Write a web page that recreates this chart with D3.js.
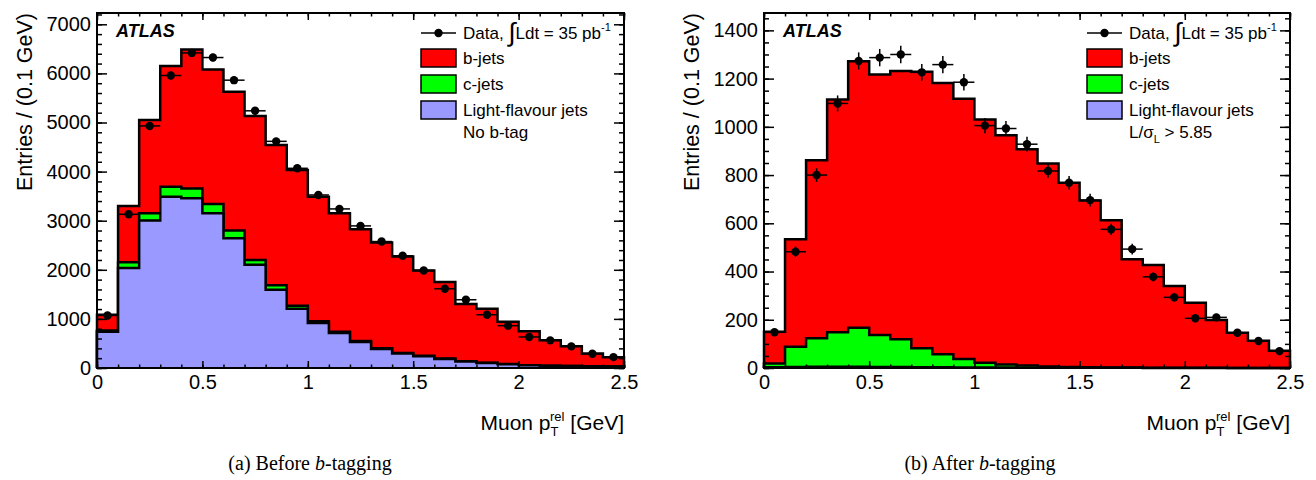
<!DOCTYPE html>
<html>
<head>
<meta charset="utf-8">
<script src="https://cdn.jsdelivr.net/npm/d3@7"></script>
<style>
  body { margin: 0; background: #fff; }
  svg { font-family: "Liberation Sans", Arial, Helvetica, sans-serif; }
</style>
</head>
<body>
<div id="chart"></div>
<script>
// Bins of muon pT^rel (GeV), lower edges, width 0.1
const binLow = [0.0, 0.1, 0.2, 0.3, 0.4, 0.5, 0.6, 0.7, 0.8, 0.9,
                1.0, 1.1, 1.2, 1.3, 1.4, 1.5, 1.6, 1.7, 1.8, 1.9,
                2.0, 2.1, 2.2, 2.3, 2.4];
const binWidth = 0.1;

// (a) before b-tagging
const beforeLight = [740, 2035, 3003, 3490, 3457, 3152, 2644, 2102, 1593, 1207,
                     916, 713, 530, 388, 293, 238, 185, 130, 104, 75,
                     55, 45, 40, 35, 30];
const beforeCharm = [25, 120, 150, 200, 200, 190, 155, 100, 90, 60,
                     35, 25, 20, 15, 12, 10, 8, 6, 5, 4,
                     3, 2, 2, 2, 2];
const beforeBottom = [320, 1145, 1896, 2463, 2829, 2737, 2825, 2928, 2858, 2766,
                      2539, 2414, 2277, 2152, 1965, 1738, 1557, 1167, 1098, 864,
                      688, 516, 399, 256, 186];
const beforeData = [1070, 3130, 4930, 5957, 6417, 6323, 5862, 5238, 4616, 4067,
                    3524, 3240, 2894, 2575, 2285, 1986, 1614, 1390, 1085, 862,
                    632, 563, 441, 290, 221];

// (b) after b-tagging
const afterLight = [3, 4, 5, 5, 5, 4, 4, 3, 3, 2,
                    2, 2, 1, 1, 1, 1, 1, 1, 0, 0,
                    0, 0, 0, 0, 0];
const afterCharm = [16, 84, 118, 143, 162, 133, 115, 79, 54, 35,
                    20, 13, 9, 5, 3, 2, 1, 1, 1, 1,
                    1, 1, 0, 0, 0];
const afterBottom = [131, 446, 738, 965, 1105, 1080, 1113, 1146, 1125, 1079,
                     1008, 950, 897, 842, 764, 692, 611, 449, 426, 339,
                     270, 198, 146, 113, 72];
const afterData = [148, 482, 800, 1097, 1273, 1287, 1300, 1226, 1258, 1185,
                   1005, 993, 928, 817, 768, 696, 575, 493, 378, 293,
                   206, 210, 146, 112, 70];

// Tick values / labels
const xMajor = [0, 0.5, 1, 1.5, 2, 2.5];
const xLabels = ["0", "0.5", "1", "1.5", "2", "2.5"];
const beforeYMajor = [0, 1000, 2000, 3000, 4000, 5000, 6000, 7000];
const beforeYLabels = ["0", "1000", "2000", "3000", "4000", "5000", "6000", "7000"];
const afterYMajor = [0, 200, 400, 600, 800, 1000, 1200, 1400];
const afterYLabels = ["0", "200", "400", "600", "800", "1000", "1200", "1400"];

const legendNames = ["b-jets", "c-jets", "Light-flavour jets"];
const colors = {b: "#ff0000", c: "#00ff00", light: "#9999ff"};

const svg = d3.select("#chart")
  .append("svg")
  .attr("width", 1316)
  .attr("height", 480);

function drawPanel(cfg) {
  const g = svg.append("g");

  const x = d3.scaleLinear().domain([0, 2.5]).range([cfg.left, cfg.right]);
  const y = d3.scaleLinear().domain([0, cfg.yMax]).range([cfg.bottom, cfg.top]);

  // stacked totals: light, light+c, light+c+b
  const lightTop = cfg.light;
  const charmTop = cfg.light.map((v, i) => v + cfg.charm[i]);
  const bTop = charmTop.map((v, i) => v + cfg.bjets[i]);

  const line = d3.line().x(d => x(d[0])).y(d => y(d[1]));
  function steps(vals) {
    const pts = [[0, 0]];
    vals.forEach((v, i) => {
      pts.push([binLow[i], v]);
      pts.push([binLow[i] + binWidth, v]);
    });
    pts.push([2.5, 0]);
    return pts;
  }

  [[bTop, colors.b], [charmTop, colors.c], [lightTop, colors.light]].forEach(([vals, col]) => {
    g.append("path")
      .attr("d", line(steps(vals)))
      .attr("fill", col)
      .attr("stroke", "#000")
      .attr("stroke-width", 2.5)
      .attr("stroke-linejoin", "miter");
  });

  // data points with error bars
  const pts = g.append("g").selectAll("g")
    .data(cfg.data)
    .enter().append("g");

  pts.append("line")
    .attr("x1", (d, i) => x(binLow[i]))
    .attr("x2", (d, i) => x(binLow[i] + binWidth))
    .attr("y1", d => y(d))
    .attr("y2", d => y(d))
    .attr("stroke", "#000")
    .attr("stroke-width", 1.5);

  pts.append("line")
    .attr("x1", (d, i) => x(binLow[i] + binWidth / 2))
    .attr("x2", (d, i) => x(binLow[i] + binWidth / 2))
    .attr("y1", d => y(d - Math.sqrt(d)))
    .attr("y2", d => y(d + Math.sqrt(d)))
    .attr("stroke", "#000")
    .attr("stroke-width", 1.5);

  pts.append("circle")
    .attr("cx", (d, i) => x(binLow[i] + binWidth / 2))
    .attr("cy", d => y(d))
    .attr("r", 4.2)
    .attr("fill", "#000");

  // axes (ROOT style, ticks inside, mirrored)
  const xMinor = d3.range(0, 2.501, 0.1);
  const yMinor = d3.range(0, cfg.yMax, cfg.yMinorStep);

  function styleAxis(sel) {
    sel.select(".domain").remove();
    sel.selectAll(".tick line").attr("stroke", "#000").attr("stroke-width", 1.5);
    sel.selectAll("text").attr("font-family", "Liberation Sans, Arial, sans-serif")
      .attr("font-size", 20).attr("fill", "#000");
  }

  g.append("g").attr("transform", `translate(0,${cfg.bottom})`)
    .call(d3.axisBottom(x).tickValues(xMinor).tickSize(-3.5).tickFormat(""))
    .call(styleAxis);
  g.append("g").attr("transform", `translate(0,${cfg.bottom})`)
    .call(d3.axisBottom(x).tickValues(xMajor).tickSize(-7).tickPadding(7)
      .tickFormat((d, i) => xLabels[i]))
    .call(styleAxis);
  g.append("g").attr("transform", `translate(0,${cfg.top})`)
    .call(d3.axisTop(x).tickValues(xMinor).tickSize(-3.5).tickFormat(""))
    .call(styleAxis);
  g.append("g").attr("transform", `translate(0,${cfg.top})`)
    .call(d3.axisTop(x).tickValues(xMajor).tickSize(-7).tickFormat(""))
    .call(styleAxis);

  g.append("g").attr("transform", `translate(${cfg.left},0)`)
    .call(d3.axisLeft(y).tickValues(yMinor).tickSize(-5).tickFormat(""))
    .call(styleAxis);
  g.append("g").attr("transform", `translate(${cfg.left},0)`)
    .call(d3.axisLeft(y).tickValues(cfg.yMajor).tickSize(-10).tickPadding(6)
      .tickFormat((d, i) => cfg.yLabels[i]))
    .call(styleAxis);
  g.append("g").attr("transform", `translate(${cfg.right},0)`)
    .call(d3.axisRight(y).tickValues(yMinor).tickSize(-5).tickFormat(""))
    .call(styleAxis);
  g.append("g").attr("transform", `translate(${cfg.right},0)`)
    .call(d3.axisRight(y).tickValues(cfg.yMajor).tickSize(-10).tickFormat(""))
    .call(styleAxis);

  // frame
  g.append("rect")
    .attr("x", cfg.left).attr("y", cfg.top)
    .attr("width", cfg.right - cfg.left).attr("height", cfg.bottom - cfg.top)
    .attr("fill", "none").attr("stroke", "#000").attr("stroke-width", 2);

  // axis titles
  g.append("text")
    .attr("transform", `translate(${cfg.left - 65},${cfg.top}) rotate(-90)`)
    .attr("text-anchor", "end")
    .attr("font-size", 21.5)
    .text("Entries / (0.1 GeV)");

  const xt = g.append("text")
    .attr("x", cfg.right).attr("y", 430)
    .attr("text-anchor", "end")
    .attr("font-size", 21);
  xt.append("tspan").text("Muon p");
  xt.append("tspan").attr("font-size", 13).attr("dy", 6).text("T");
  xt.append("tspan").attr("font-size", 13).attr("dx", -8).attr("dy", -15).text("rel");
  xt.append("tspan").attr("dy", 9).text(" [GeV]");

  // ATLAS label
  g.append("text")
    .attr("x", cfg.left + 19).attr("y", 37)
    .attr("font-size", 18)
    .attr("font-weight", "bold")
    .attr("font-style", "italic")
    .text("ATLAS");

  // legend
  const lx = cfg.legendX, tx = lx + 42;
  g.append("line")
    .attr("x1", lx).attr("x2", lx + 35).attr("y1", 33).attr("y2", 33)
    .attr("stroke", "#000").attr("stroke-width", 1.5);
  g.append("circle").attr("cx", lx + 17.5).attr("cy", 33).attr("r", 4.2).attr("fill", "#000");
  const dt = g.append("text").attr("x", tx).attr("y", 39).attr("font-size", 17);
  dt.append("tspan").text("Data, ");
  dt.append("tspan").attr("font-size", 26).attr("dy", 2).text("\u222B");
  dt.append("tspan").attr("dy", -2).text("Ldt = 35 pb");
  dt.append("tspan").attr("font-size", 11).attr("dy", -8).text("-1");

  const fills = [colors.b, colors.c, colors.light];
  legendNames.forEach((name, i) => {
    const cy = 58 + i * 26;
    g.append("rect")
      .attr("x", lx).attr("y", cy - 9).attr("width", 35).attr("height", 18)
      .attr("fill", fills[i]).attr("stroke", "#000").attr("stroke-width", 1.5);
    g.append("text")
      .attr("x", tx).attr("y", cy + 6)
      .attr("font-size", 17)
      .text(name);
  });

  const note = g.append("text").attr("x", tx).attr("y", 138).attr("font-size", 17);
  cfg.note(note);

  // caption
  const cap = g.append("text")
    .attr("x", cfg.captionX).attr("y", 470)
    .attr("text-anchor", "middle")
    .attr("font-family", "Liberation Serif, Times New Roman, serif")
    .attr("font-size", 20);
  cap.append("tspan").text(cfg.captionPre);
  cap.append("tspan").attr("font-style", "italic").text("b");
  cap.append("tspan").text("-tagging");
}

drawPanel({
  left: 97, right: 624, top: 13, bottom: 368, yMax: 7230, yMinorStep: 200,
  yMajor: beforeYMajor, yLabels: beforeYLabels,
  light: beforeLight, charm: beforeCharm, bjets: beforeBottom, data: beforeData,
  legendX: 421, captionX: 310, captionPre: "(a) Before ",
  note: t => t.text("No b-tag")
});

drawPanel({
  left: 764, right: 1290, top: 13, bottom: 368, yMax: 1472, yMinorStep: 50,
  yMajor: afterYMajor, yLabels: afterYLabels,
  light: afterLight, charm: afterCharm, bjets: afterBottom, data: afterData,
  legendX: 1087, captionX: 980, captionPre: "(b) After ",
  note: t => {
    t.append("tspan").text("L/\u03C3");
    t.append("tspan").attr("font-size", 11).attr("dy", 5).text("L");
    t.append("tspan").attr("dy", -5).text(" > 5.85");
  }
});
</script>
</body>
</html>
